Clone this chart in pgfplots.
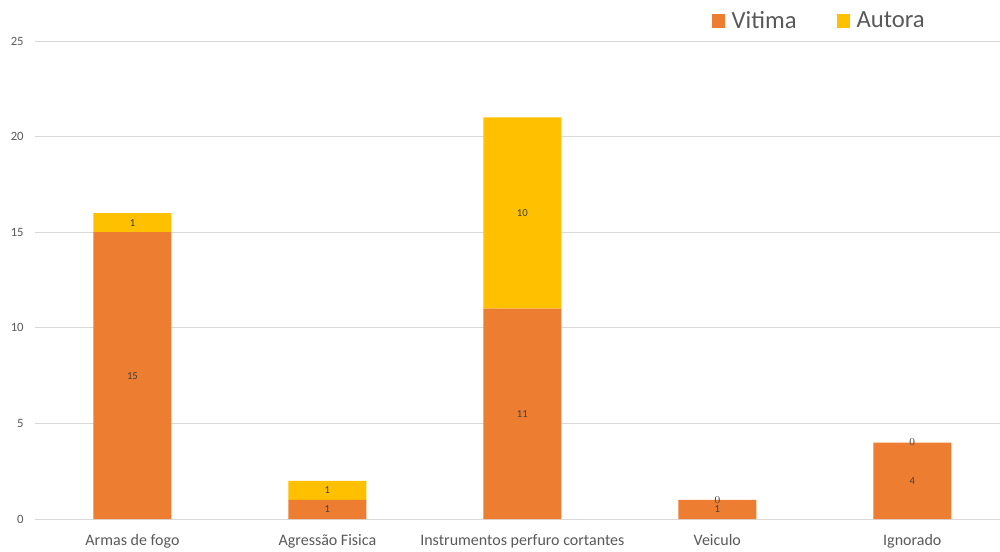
\documentclass[border=0pt]{standalone}
\usepackage{pgfplots}
\usepackage{pgfplotstable}
\usepackage{fontspec}
\setmainfont{Carlito}
\pgfplotsset{compat=1.18}
\definecolor{vit}{HTML}{ED7D31}
\definecolor{aut}{HTML}{FFC000}
\definecolor{txt}{HTML}{595959}
\definecolor{grd}{HTML}{D9D9D9}
\definecolor{lbl}{HTML}{404040}

% x: category position, v: Vitima, a: Autora
\pgfplotstableread{
x v a
0 15 1
1 1 1
2 11 10
3 1 0
4 4 0
}\dados

\pgfplotsset{
  panel/.style={
    at={(26.25pt,24pt)}, anchor=south west,
    scale only axis, width=723.75pt, height=358.5pt,
    xmin=-0.5, xmax=4.45, ymin=0, ymax=25,
  },
}
\tikzset{segment label/.style={font=\fontsize{8}{9}\selectfont, text=lbl, anchor=center}}

\begin{document}
\begin{tikzpicture}
\useasboundingbox (0,0) rectangle (750pt,413.25pt);
\begin{axis}[
  panel,
  ybar stacked, bar width=0.4,
  ytick={0,5,...,25},
  xtick=data,
  xticklabels={Armas de fogo, Agressão Fisica, Instrumentos perfuro cortantes, Veiculo, Ignorado},
  axis line style={draw=none},
  tick style={draw=none},
  ymajorgrids, grid style={grd, line width=0.75pt},
  ticklabel style={text=txt},
  xticklabel style={font=\fontsize{12}{14}\selectfont, yshift=-8pt},
  yticklabel style={font=\fontsize{9.5}{11}\selectfont, xshift=-5pt},
  /pgf/number format/assume math mode=true,
  legend columns=2,
  legend style={at={(0.813,1.042)}, anchor=center, draw=none, fill=none,
    font=\fontsize{18.5}{22}\selectfont, text=txt,
    /tikz/every odd column/.append style={column sep=3pt},
    /tikz/every even column/.append style={column sep=28pt}},
  nodes near coords,
  every node near coord/.append style={segment label},
]
\addplot[fill=vit, draw=none,
  legend image code/.code={\fill[vit] (0pt,-5pt) rectangle (10pt,5pt);}]
  table[x=x, y=v]{\dados};
\addlegendentry{Vitima}
\addplot[fill=aut, draw=none,
  legend image code/.code={\fill[aut] (0pt,-5pt) rectangle (10pt,5pt);}]
  table[x=x, y=a]{\dados};
\addlegendentry{Autora}
\end{axis}
% zero-valued Autora segments: their label sits on top of the stack
\begin{axis}[panel, hide axis,
  nodes near coords, point meta=explicit,
  every node near coord/.append style={segment label}]
\addplot[draw=none, mark=none,
  restrict expr to domain={\thisrow{a}}{0:0}, unbounded coords=discard]
  table[x=x, y expr=\thisrow{v}+\thisrow{a}, meta=a]{\dados};
\end{axis}
\end{tikzpicture}
\end{document}
